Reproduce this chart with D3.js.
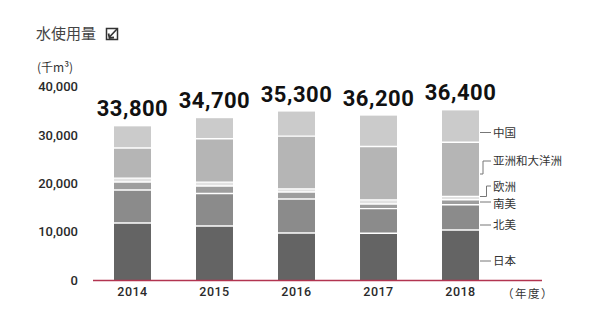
<!DOCTYPE html>
<html>
<head>
<meta charset="utf-8">
<script src="https://cdn.jsdelivr.net/npm/d3@7"></script>
<style>
  html, body { margin: 0; padding: 0; background: #fff; }
  svg { display: block; }
  .cjk { font-family: "Noto Sans CJK JP", "Noto Sans CJK SC", sans-serif; }
  .num { font-family: Roboto, "Liberation Sans", sans-serif; }
</style>
</head>
<body>
<script>
// ---- data ----
const years = ["2014", "2015", "2016", "2017", "2018"];
const regions = ["日本", "北美", "南美", "欧洲", "亚洲和大洋洲", "中国"];
const japan        = [11800, 11180,  9730,  9670, 10350];
const northAmerica = [ 6830,  6730,  7040,  5110,  5220];
const southAmerica = [ 1660,  1550,  1450,   950,  1040];
const europe       = [  800,   800,   650,   850,   700];
const asiaOceania  = [ 6250,  8980, 10910, 11070, 11220];
const china        = [ 4470,  4260,  5090,  6380,  6580];
const totalLabels  = ["33,800", "34,700", "35,300", "36,200", "36,400"];
const yTicks = [0, 10000, 20000, 30000, 40000];
const title = "水使用量";
const unitLabel = "(千m³)";
const xUnitLabel = "（年度）";

const seriesValues = [japan, northAmerica, southAmerica, europe, asiaOceania, china];
const colors = ["#646464", "#8b8b8b", "#9e9e9e", "#e2e2e2", "#b5b5b5", "#cbcbcb"];

const rows = years.map((yr, i) => {
  const r = { year: yr };
  regions.forEach((k, j) => r[k] = seriesValues[j][i]);
  return r;
});

const W = 600, H = 325;
const svg = d3.select("body").append("svg").attr("width", W).attr("height", H);

const x = d3.scaleBand().domain(years).range([73, 520]).paddingInner(0.549).paddingOuter(0.5);
const y = d3.scaleLinear().domain([0, 40000]).range([280, 86.8]);

const stack = d3.stack().keys(regions)(rows);

// bars
const g = svg.append("g");
stack.forEach((layer, li) => {
  g.selectAll(null).data(layer).enter().append("rect")
    .attr("x", d => x(d.data.year))
    .attr("width", x.bandwidth())
    .attr("y", d => y(d[1]))
    .attr("height", d => y(d[0]) - y(d[1]))
    .attr("fill", colors[li]);
});
// white separators between segments
stack.slice(0, stack.length - 1).forEach(layer => {
  g.selectAll(null).data(layer).enter().append("line")
    .attr("x1", d => x(d.data.year)).attr("x2", d => x(d.data.year) + x.bandwidth())
    .attr("y1", d => y(d[1])).attr("y2", d => y(d[1]))
    .attr("stroke", "#fff").attr("stroke-width", 1.4);
});

// baseline
svg.append("line").attr("x1", 93).attr("x2", 542).attr("y1", y(0) + 0.5).attr("y2", y(0) + 0.5)
  .attr("stroke", "#b23450").attr("stroke-width", 1.6);

// y axis labels
const yAxis = d3.axisLeft(y).tickValues(yTicks).tickFormat(d3.format(",")).tickSize(0).tickPadding(0);
const ya = svg.append("g").attr("transform", "translate(78,0)").call(yAxis);
ya.select(".domain").remove();
ya.selectAll("text").attr("class", "num").attr("font-size", 13).attr("font-weight", 500)
  .attr("fill", "#2a2a2a").attr("font-family", null);

// x axis labels
const xAxis = d3.axisBottom(x).tickSize(0).tickPadding(0);
const xa = svg.append("g").attr("transform", "translate(0,287)").call(xAxis);
xa.select(".domain").remove();
xa.selectAll("text").attr("class", "num").attr("font-size", 12.5).attr("font-weight", 500)
  .attr("letter-spacing", "0.5px").attr("fill", "#2a2a2a").attr("font-family", null);

// totals
const tops = stack[stack.length - 1];
svg.selectAll(null).data(tops).enter().append("text")
  .attr("class", "num")
  .attr("x", d => x(d.data.year) + x.bandwidth() / 2)
  .attr("y", d => y(d[1]) - 10)
  .attr("text-anchor", "middle")
  .attr("font-size", 22).attr("font-weight", 700).attr("letter-spacing", "0.5px").attr("fill", "#111")
  .text((d, i) => totalLabels[i]);

// title
svg.append("text").attr("class", "cjk").attr("x", 36).attr("y", 39)
  .attr("font-size", 15).attr("fill", "#444").text(title);
// assurance icon
svg.append("rect").attr("x", 106.5).attr("y", 28.5).attr("width", 11).attr("height", 11)
  .attr("fill", "none").attr("stroke", "#333").attr("stroke-width", 1.5);
svg.append("path").attr("d", "M117,29 L109.5,37").attr("stroke", "#333").attr("stroke-width", 1.6).attr("fill", "none");
svg.append("path").attr("d", "M108.5,33.5 L109.5,38 L114,37.5").attr("stroke", "#333").attr("stroke-width", 1.8).attr("fill", "none");

// unit label
svg.append("text").attr("class", "cjk").attr("x", 37).attr("y", 72)
  .attr("font-size", 12).attr("fill", "#333").text(unitLabel);

// x unit
svg.append("text").attr("class", "cjk").attr("x", 502).attr("y", 298)
  .attr("font-size", 11.5).attr("letter-spacing", "1.5px").attr("fill", "#333").text(xUnitLabel);

// legend with leader lines (layout)
const legendLayout = [
  { key: "中国", ty: 133, path: "M480,132.5 H491" },
  { key: "亚洲和大洋洲", ty: 161, path: "M480,174 H483 V161 H491" },
  { key: "欧洲", ty: 187, path: "M480,196.5 H486.5 V186 H491" },
  { key: "南美", ty: 204, path: "M480,202 H491" },
  { key: "北美", ty: 225, path: "M480,225 H491" },
  { key: "日本", ty: 261, path: "M480,261 H491" }
];
legendLayout.forEach(l => {
  svg.append("path").attr("d", l.path).attr("stroke", "#777").attr("stroke-width", 1).attr("fill", "none");
  svg.append("text").attr("class", "cjk").attr("x", 493).attr("y", l.ty).attr("dy", "0.35em")
    .attr("font-size", 11.5).attr("fill", "#333").text(l.key);
});
</script>
</body>
</html>
